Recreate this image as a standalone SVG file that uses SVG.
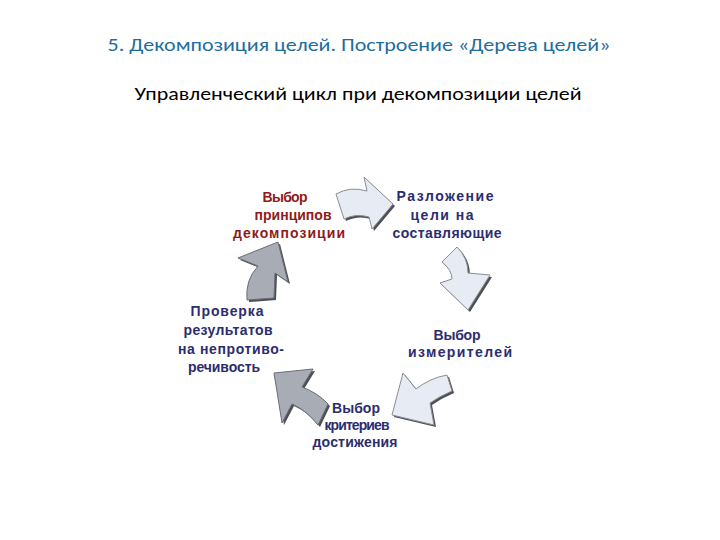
<svg xmlns="http://www.w3.org/2000/svg" width="720" height="540" viewBox="0 0 720 540">
<style>
.title{font-family:Carlito,"Open Sans","Liberation Sans",sans-serif;font-size:19px;fill:#1d6e9e;text-anchor:middle}
.sub{font-family:Carlito,"Open Sans","Liberation Sans",sans-serif;font-size:19px;fill:#000;text-anchor:middle}
.lbl{font-family:"Liberation Sans",Arial,sans-serif;font-size:14px;font-weight:bold;fill:#2b2d6e;text-anchor:middle}
.red{fill:#8e1b1b}
.light{fill:#e7ebf3;stroke:#8a8d94;stroke-width:1}
.dark{fill:#a8acb4;stroke:#6a6d73;stroke-width:1}
.shadow{fill:#4d4f55}
</style>
<rect width="720" height="540" fill="#fff"/>
<text class="title" x="359" y="51" textLength="503" lengthAdjust="spacingAndGlyphs">5. Декомпозиция целей. Построение «Дерева целей»</text>
<text class="sub" x="358" y="100" textLength="447" lengthAdjust="spacingAndGlyphs">Управленческий цикл при декомпозиции целей</text>
<g id="connectors">
  <g id="arrow1">
    <path class="shadow" d="M338,196 Q352,188 369,193 L366,179 L395,206 L374,231 L371,219 Q358,215 346,221 Z"/>
    <path class="light" d="M336,194 Q350,186 367,191 L364,177 L393,204 L372,229 L369,217 Q356,213 344,219 Z"/>
  </g>
  <g id="arrow2">
    <path class="shadow" d="M444,264 L459,249 Q470,260 470,275 L492,277 L470,312 L442,285 L454,281 Q454,272 444,264 Z"/>
    <path class="light" d="M442,262 L457,247 Q468,258 468,273 L490,275 L468,310 L440,283 L452,279 Q452,270 442,262 Z"/>
  </g>
  <g id="arrow3">
    <path class="shadow" d="M449,377 L454,393 Q442,398 432,405 L436,427 L394,417 L405,375 L418,391 Q432,380 449,377 Z"/>
    <path class="light" d="M447,375 L452,391 Q440,396 430,403 L434,425 L392,415 L403,373 L416,389 Q430,378 447,375 Z"/>
  </g>
  <g id="arrow4">
    <path class="shadow" d="M276,375 L315,371 L304,389 Q320,395 330,406 L320,427 Q308,412 294,406 L284,425 Z"/>
    <path class="dark" d="M274,373 L313,369 L302,387 Q318,393 328,404 L318,425 Q306,410 292,404 L282,423 Z"/>
  </g>
  <g id="arrow5">
    <path class="shadow" d="M280,244 L290,284 L277,275 L276,300 L249,302 Q247,282 260,268 L240,260 Z"/>
    <path class="dark" d="M278,242 L288,282 L275,273 L274,298 L247,300 Q245,280 258,266 L238,258 Z"/>
  </g>
</g>
<g id="node-principles">
  <text class="lbl red" x="285" y="202" textLength="45">Выбор</text>
  <text class="lbl red" x="293" y="220" textLength="77">принципов</text>
  <text class="lbl red" x="289" y="238" textLength="112">декомпозиции</text>
</g>
<g id="node-split">
  <text class="lbl" x="445" y="201" textLength="97">Разложение</text>
  <text class="lbl" x="442" y="220" textLength="63">цели на</text>
  <text class="lbl" x="447" y="238" textLength="109">составляющие</text>
</g>
<g id="node-measures">
  <text class="lbl" x="457" y="340" textLength="47">Выбор</text>
  <text class="lbl" x="460" y="357" textLength="104">измерителей</text>
</g>
<g id="node-criteria">
  <text class="lbl" x="356" y="413" textLength="48">Выбор</text>
  <text class="lbl" x="357" y="430" textLength="65">критериев</text>
  <text class="lbl" x="355" y="447" textLength="85">достижения</text>
</g>
<g id="node-check">
  <text class="lbl" x="227" y="316" textLength="73">Проверка</text>
  <text class="lbl" x="228" y="335" textLength="89">результатов</text>
  <text class="lbl" x="231" y="354" textLength="106">на непротиво-</text>
  <text class="lbl" x="224" y="372" textLength="72">речивость</text>
</g>
</svg>
